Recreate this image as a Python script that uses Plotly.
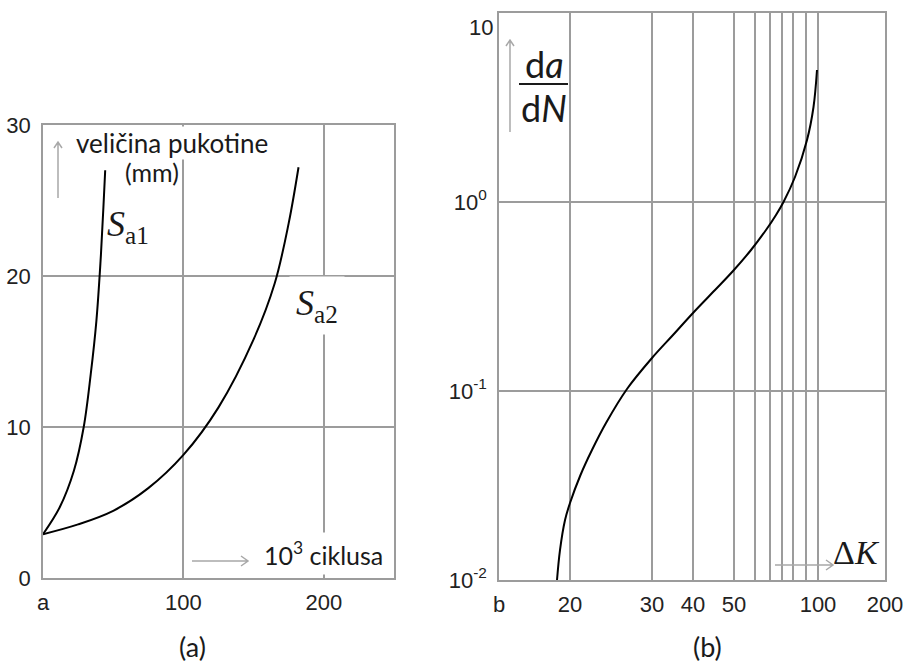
import numpy as np
import plotly.graph_objects as go

OFF = 0
W, H = 908, 665

# ---------------- data: panel (a) ----------------
sa1_cycles = [0, 12, 22, 29, 34, 38, 41, 43, 44.3]        # 10^3 cycles
sa1_size = [2.9, 4.7, 7.1, 10.0, 13.5, 17.0, 21.0, 24.5, 27.0]     # mm
sa2_cycles = [0, 25, 50, 75, 100, 125, 150, 165, 175, 182]
sa2_size = [2.9, 3.55, 4.45, 5.95, 8.15, 11.3, 15.8, 19.5, 23.5, 27.2]
a_xticks = [0, 100, 200]
a_xticklabels = ["a", "100", "200"]
a_yticks = [0, 10, 20, 30]

# ---------------- data: panel (b) ----------------
delta_k = [18.17, 18.59, 19.3, 20.0, 21.28, 22.68, 24.39, 26.95, 30, 35.12, 40, 45.37, 49.76,
           58.1, 67.33, 75, 81.36, 90.77, 95.42, 98.13, 99.58]
da_dn = [0.01, 0.01441, 0.02077, 0.02555, 0.03594, 0.04873, 0.06771, 0.1025, 0.1495, 0.1978,
         0.2587, 0.3422, 0.4314, 0.5572, 0.7109, 0.8536, 1.0, 1.356, 2.128, 3.182, 4.994]
# the drawn ΔK axis is a hand-made (non-uniform) scale: grid values and their scale positions
dk_grid = [10, 20, 30, 40, 50, 60, 70, 80, 90, 95, 100, 200]
dk_grid_labels = ["b", "20", "30", "40", "50", "", "", "", "", "", "100", "200"]
dk_scale = [0, 71, 153, 194, 235, 256, 271, 283, 294, 307, 319, 386]
b_yticks = [0.01, 0.1, 1, 10]
b_yticklabels = ["10<sup>-2</sup>", "10<sup>-1</sup>", "10<sup>0</sup>", ""]
b_top_label = "10"


def dk_to_scale(v):
    return np.interp(v, dk_grid, dk_scale)


def P(x, y):
    return (x - OFF) / W, 1 - (y - OFF) / H


def dom_x(a, b):
    return [P(a, 0)[0], P(b, 0)[0]]


def dom_y(top, bottom):
    return [P(0, bottom)[1], P(0, top)[1]]


GRID = "#9c9c9c"
TXT = "#1a1a1a"
TICKFONT = dict(family="Liberation Sans Narrow, Liberation Sans, Arial", size=22, color="#222")
LABFONT = "Lato, Open Sans, sans-serif"
SERIF = "Liberation Serif, DejaVu Serif, serif"

fig = go.Figure()
fig.add_trace(go.Scatter(x=sa1_cycles, y=sa1_size, mode="lines", line=dict(color="black", width=2, shape="spline"),
                         xaxis="x", yaxis="y", showlegend=False, hoverinfo="skip"))
fig.add_trace(go.Scatter(x=sa2_cycles, y=sa2_size, mode="lines", line=dict(color="black", width=2, shape="spline"),
                         xaxis="x", yaxis="y", showlegend=False, hoverinfo="skip"))
fig.add_trace(go.Scatter(x=dk_to_scale(delta_k), y=da_dn, mode="lines",
                         line=dict(color="black", width=2, shape="spline"),
                         xaxis="x2", yaxis="y2", showlegend=False, hoverinfo="skip"))

axcommon = dict(showline=True, mirror=True, linecolor=GRID, linewidth=1.5, showgrid=True,
                gridcolor=GRID, gridwidth=1.5, zeroline=False, ticks="", tickfont=TICKFONT,
                fixedrange=True, automargin=False, ticklabeloverflow="allow")

fig.update_layout(
    width=W, height=H,
    margin=dict(l=0, r=0, t=0, b=0, autoexpand=False),
    paper_bgcolor="white", plot_bgcolor="white",
    xaxis=dict(domain=dom_x(43, 394), range=[0, 250], tickvals=a_xticks, ticktext=a_xticklabels,
               ticklabelstandoff=4, anchor="y", **axcommon),
    yaxis=dict(domain=dom_y(125, 578), range=[0, 30], tickvals=a_yticks,
               ticklabelstandoff=6, anchor="x", **axcommon),
    xaxis2=dict(domain=dom_x(499, 885), range=[0, 386], tickvals=list(dk_to_scale(dk_grid)),
                ticktext=dk_grid_labels, ticklabelstandoff=4, anchor="y2", **axcommon),
    yaxis2=dict(domain=dom_y(13, 580), type="log", range=[-2, 1], tickvals=b_yticks,
                ticktext=b_yticklabels, ticklabelstandoff=6, anchor="x2", **axcommon),
)

ann = []


def text(x, y, s, size, family=LABFONT, xanchor="center", bg=None, pad=1, color=TXT):
    px, py = P(x, y)
    d = dict(x=px, y=py, xref="paper", yref="paper", text=s, showarrow=False, xanchor=xanchor,
             yanchor="middle", font=dict(family=family, size=size, color=color), borderpad=pad)
    if bg:
        d["bgcolor"] = bg
    ann.append(d)


text(172, 143, "veličina pukotine", 26, bg="white", pad=0)
text(152, 172, "(mm)", 25)
text(105, 226, "<i>S</i><sub>a1</sub>", 36, family=SERIF, xanchor="left")
text(289, 305, "<i>S</i><sub>a2</sub>", 36, family=SERIF, xanchor="left", bg="white", pad=6)
text(259, 553, "10<sup>3</sup> ciklusa", 25, xanchor="left", bg="white", pad=4)
text(192, 646, "(a)", 27)
text(707, 646, "(b)", 27)
text(544, 64, "d<i>a</i>", 36)
text(544, 108, "d<i>N</i>", 36)
text(831, 552, "Δ<i>K</i>", 34, family=SERIF, xanchor="left")
text(494, 27, b_top_label, TICKFONT["size"], family=TICKFONT["family"], xanchor="right",
     pad=0, color=TICKFONT["color"])

shapes = []


def path_shape(pts_list, color="#a8a8a8", width=1.5):
    segs = []
    for pts in pts_list:
        segs.append("M " + " L ".join(f"{P(x, y)[0]:.5f},{P(x, y)[1]:.5f}" for x, y in pts))
    shapes.append(dict(type="path", path=" ".join(segs), xref="paper", yref="paper",
                       line=dict(color=color, width=width)))


# up arrow (a)
path_shape([[(58, 198), (58, 142)], [(54, 148), (58, 142), (62, 148)]])
# right arrow (a)
path_shape([[(192, 561), (248, 561)], [(241, 556), (248, 561), (241, 566)]])
# up arrow (b)
path_shape([[(510, 132), (510, 40)], [(506, 46), (510, 40), (514, 46)]])
# right arrow (b)
path_shape([[(775, 565), (833, 565)], [(826, 560), (833, 565), (826, 570)]])
# fraction bar
path_shape([[(519, 84), (568, 84)]], color=TXT, width=2)

fig.update_layout(annotations=ann, shapes=shapes)
fig.write_html("out.html", config={"displayModeBar": False},
               post_script="document.body.style.margin='0';document.body.style.overflow='hidden';")
